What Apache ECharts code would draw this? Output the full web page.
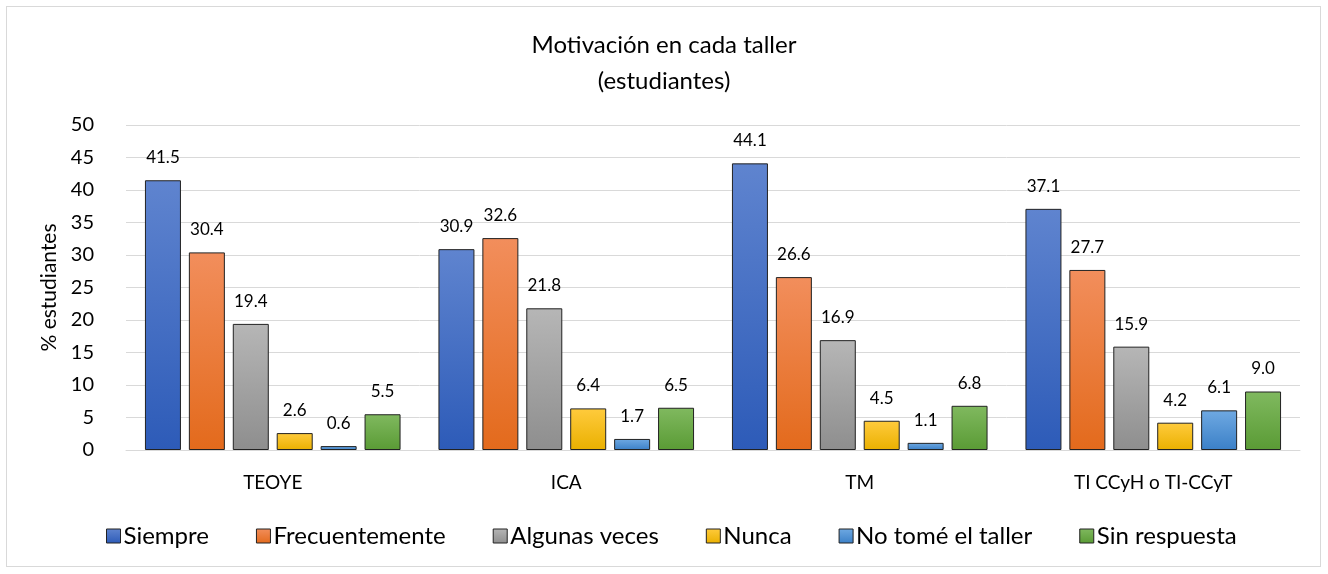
<!DOCTYPE html>
<html><head><meta charset="utf-8">
<script src="https://cdn.jsdelivr.net/npm/echarts@6/dist/echarts.min.js"></script>
<style>html,body{margin:0;padding:0;background:#fff}#c{width:1328px;height:574px}
#frame{position:absolute;left:6px;top:6px;width:1315px;height:561px;border:1px solid #d9d9d9;box-sizing:border-box;pointer-events:none}</style>
</head><body><div id="c"></div><div id="frame"></div>
<script>
const categories = ['TEOYE', 'ICA', 'TM', 'TI CCyH o TI-CCyT'];
const seriesNames = ['Siempre', 'Frecuentemente', 'Algunas veces', 'Nunca', 'No tomé el taller', 'Sin respuesta'];
const siempre = [41.5, 30.9, 44.1, 37.1];
const frecuentemente = [30.4, 32.6, 26.6, 27.7];
const algunasVeces = [19.4, 21.8, 16.9, 15.9];
const nunca = [2.6, 6.4, 4.5, 4.2];
const noTome = [0.6, 1.7, 1.1, 6.1];
const sinRespuesta = [5.5, 6.5, 6.8, 9.0];
const yTicks = [0, 5, 10, 15, 20, 25, 30, 35, 40, 45, 50];

const values = [siempre, frecuentemente, algunasVeces, nunca, noTome, sinRespuesta];
const gradients = [
  ['#5f84cf', '#2d5bb8'],
  ['#f28e5c', '#e36a1c'],
  ['#b6b6b6', '#8e8e8e'],
  ['#ffcb3d', '#eab000'],
  ['#6fa9e2', '#3b80c7'],
  ['#80b95f', '#5a9b35']
];
const FONT = 'Lato';
const chart = echarts.init(document.getElementById('c'));
chart.setOption({
  animation: false,
  textStyle: { fontFamily: FONT, color: '#000' },
  title: {
    text: 'Motivación en cada taller\n(estudiantes)',
    left: 'center', top: 22,
    textStyle: { fontFamily: FONT, fontSize: 24, fontWeight: 'normal', color: '#000', lineHeight: 36 }
  },
  legend: {
    top: 519, left: 101,
    icon: 'rect',
    itemWidth: 14, itemHeight: 14, itemGap: 47,
    itemStyle: { borderColor: '#222', borderWidth: 1 },
    textStyle: { fontFamily: FONT, fontSize: 24, color: '#000', padding: [0, 0, 0, -2] },
    data: seriesNames
  },
  grid: { left: 126, right: 28, top: 125, bottom: 124, containLabel: false },
  xAxis: {
    type: 'category', data: categories,
    axisTick: { show: false },
    axisLine: { lineStyle: { color: '#d9d9d9' } },
    axisLabel: { fontFamily: FONT, fontSize: 19, color: '#000', margin: 23 }
  },
  yAxis: {
    type: 'value', min: 0, max: 50, interval: 5,
    name: '% estudiantes', nameLocation: 'middle', nameGap: 66,
    nameTextStyle: { fontFamily: FONT, fontSize: 21, color: '#000' },
    axisLabel: { fontFamily: FONT, fontSize: 20, color: '#000', margin: 32,
      formatter: v => yTicks.includes(v) ? String(v) : '' },
    splitLine: { lineStyle: { color: '#d9d9d9' } },
    axisLine: { show: false }, axisTick: { show: false }
  },
  series: seriesNames.map((n, i) => ({
    name: n, type: 'bar', data: values[i],
    barWidth: 36, barGap: '22%',
    itemStyle: {
      color: new echarts.graphic.LinearGradient(0, 0, 0, 1, [
        { offset: 0, color: gradients[i][0] }, { offset: 1, color: gradients[i][1] }
      ]),
      borderColor: '#222', borderWidth: 1
    },
    label: { show: true, position: 'top', distance: 14, fontFamily: FONT, fontSize: 17, color: '#000',
      formatter: p => p.value.toFixed(1) }
  }))
});
</script></body></html>
